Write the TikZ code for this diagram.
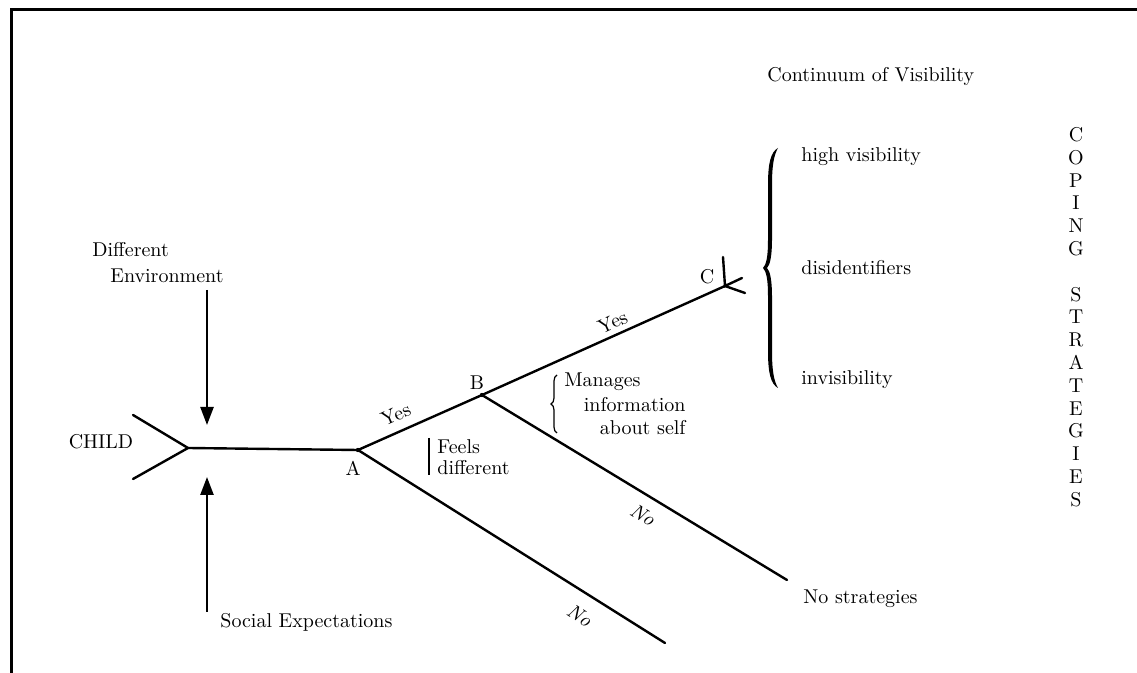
\documentclass[tikz,border=0pt]{standalone}
\usetikzlibrary{arrows.meta,decorations.pathreplacing}
\begin{document}
\begin{tikzpicture}[x=0.5pt,y=-0.5pt,
  line/.style={line width=1.2pt,line cap=round},
  thin/.style={line width=0.6pt},
  arr/.style={line width=1.2pt,-{Triangle[length=9pt,width=6.5pt]}},
  lbl/.style={font=\fontsize{10}{12}\selectfont,inner sep=0pt},
  edgelbl/.style={font=\fontsize{10}{12}\selectfont,inner sep=0pt,sloped}]
\useasboundingbox (0,0) rectangle (1137,673);
\draw[line width=1.5pt] (11,673) -- (11,9.5) -- (1137,9.5);

% main tree
\node[lbl] (child) at (101,442) {CHILD};
\coordinate (fork) at (188,448);
\coordinate (fu) at (133,415);
\coordinate (fl) at (133,479);
\coordinate (A) at (358,450);
\coordinate (B) at (482,395);
\coordinate (C) at (725,286);
\coordinate (Aend) at (665,643);
\coordinate (Bend) at (787,580);
\coordinate (Cup) at (723,257);
\coordinate (Cr1) at (742,278);
\coordinate (Cr2) at (745,293);

\draw[line] (fu) -- (fork) -- (fl);
\draw[line] (fork) -- (A);
\draw[line] (A) -- node[edgelbl,above=4.4pt,pos=0.36]{Yes} (B);
\draw[line] (B) -- node[edgelbl,above=2.5pt,pos=0.56]{Yes} (C);
\draw[line] (A) -- node[edgelbl,below=7pt,pos=0.76]{\textit{No}} (Aend);
\draw[line] (B) -- node[edgelbl,below=5.5pt,pos=0.56]{\textit{No}} (Bend);
\draw[line] (Cup) -- (C) -- (Cr1);
\draw[line] (C) -- (Cr2);
\fill (A) circle (2.2);
\fill (B) circle (2.2);

\node[lbl] (la) at (353,468) {A};
\node[lbl] (lb) at (477,383) {B};
\node[lbl] (lc) at (707,277) {C};

% influences
\node[lbl,anchor=west] (diff) at (92,250) {Different};
\node[lbl,anchor=west] (env) at (110,276) {Environment};
\coordinate (dtop) at (207,290);
\coordinate (dtip) at (207,425);
\draw[arr] (dtop) -- (dtip);
\node[lbl,anchor=west] (soc) at (220,622) {Social Expectations};
\coordinate (ubot) at (207,612);
\coordinate (utip) at (207,477);
\draw[arr] (ubot) -- (utip);

% feels different
\draw[thin] (429,438) -- (429,475);
\node[lbl,anchor=west] (feels) at (437,447) {Feels};
\node[lbl,anchor=west] (diffr) at (437,468) {different};

% manages information
\draw[thin,decorate,decoration={brace,amplitude=3pt}] (557,433) -- (557,375);
\node[lbl,anchor=west] (man) at (564,382) {Manages};
\node[lbl,anchor=east] (info) at (686,405) {information};
\node[lbl,anchor=east] (about) at (686,428) {about self};

% big brace
\fill (778,148) .. controls (771,152) and (768,162) .. (768,185) -- (768,240)
  .. controls (768,258) and (766,265) .. (763,268)
  .. controls (766,271) and (768,278) .. (768,296) -- (768,351)
  .. controls (768,374) and (771,384) .. (778,388)
  .. controls (774,381) and (772,371) .. (772,351) -- (772,296)
  .. controls (772,280) and (770,271) .. (767,268)
  .. controls (770,265) and (772,256) .. (772,240) -- (772,185)
  .. controls (772,165) and (774,155) .. (778,148) -- cycle;

\node[lbl,anchor=west] (cont) at (767,77) {Continuum of Visibility};
\node[lbl,anchor=west] (high) at (801,157) {high visibility};
\node[lbl,anchor=west] (disid) at (801,268) {disidentifiers};
\node[lbl,anchor=west] (invis) at (801,380) {invisibility};
\node[lbl,anchor=west] (nostrat) at (803,599) {No strategies};

\node[lbl,align=center,anchor=north,font=\fontsize{10}{11.4}\selectfont] (cope) at (1076,127)
  {C\\O\\P\\I\\N\\G\\[11.4pt]S\\T\\R\\A\\T\\E\\G\\I\\E\\S};
\end{tikzpicture}
\end{document}
